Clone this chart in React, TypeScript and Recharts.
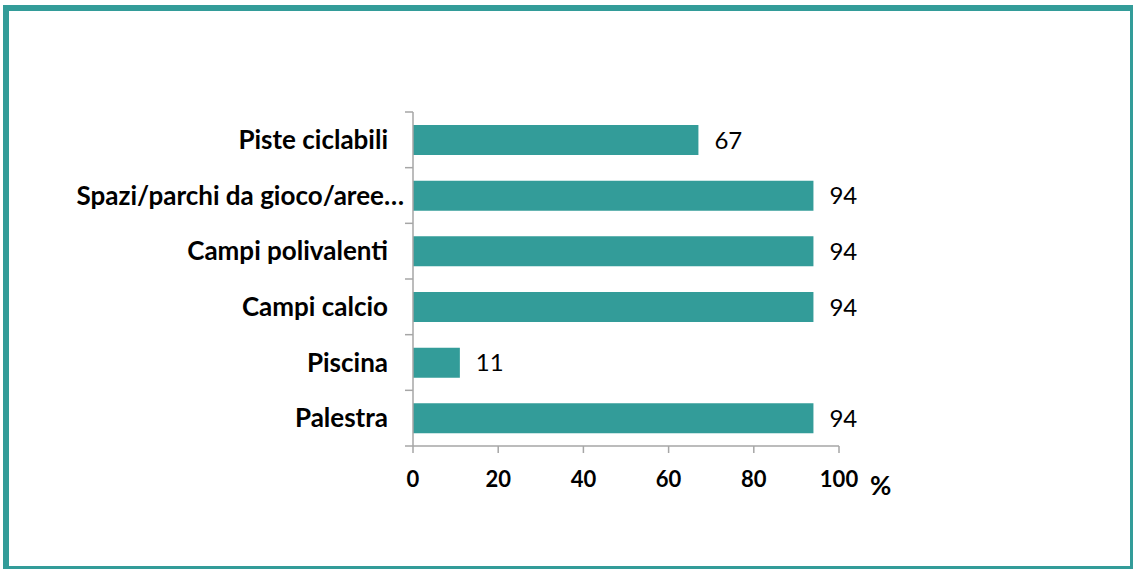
import { BarChart, Bar, XAxis, YAxis, LabelList } from "recharts";

const categories = [
  "Piste ciclabili",
  "Spazi/parchi da gioco/aree…",
  "Campi polivalenti",
  "Campi calcio",
  "Piscina",
  "Palestra",
];
const values = [67, 94, 94, 94, 11, 94];
const xTicks = [0, 20, 40, 60, 80, 100];

const data = categories.map((name, i) => ({ name, value: values[i] }));

const TEAL = "#339c99";
const AXIS = "#a6a6a6";
const FONT = "Lato, 'Open Sans', sans-serif";
const TICK_SIZE = 8;
const TICK_MARGIN = 17;

// Excel-style ticks: marks sit on the category boundaries, not the centres
const CategoryTick = (props: any) => {
  const { x, y, payload, index, visibleTicksCount } = props;
  const half = payload.offset ?? 0;
  const lx1 = x + TICK_MARGIN;
  const lx2 = lx1 + TICK_SIZE;
  // truncated labels run closer to the axis in the original
  const shift = String(payload.value).endsWith("…") ? 16 : 0;
  return (
    <g>
      <line x1={lx1} x2={lx2} y1={y - half} y2={y - half} stroke={AXIS} strokeWidth={1.5} />
      {index === visibleTicksCount - 1 && (
        <line x1={lx1} x2={lx2} y1={y + half} y2={y + half} stroke={AXIS} strokeWidth={1.5} />
      )}
      <text
        x={x + shift}
        y={y}
        dy="0.35em"
        textAnchor="end"
        fontFamily={FONT}
        fontWeight={700}
        fontSize={26}
        fill="#000"
      >
        {payload.value}
      </text>
    </g>
  );
};

export default function App() {
  return (
    <div
      style={{
        position: "fixed",
        left: 3,
        top: 5,
        width: 1133,
        height: 567,
        boxSizing: "border-box",
        border: `6px solid ${TEAL}`,
        background: "#fff",
      }}
    >
      <div style={{ position: "absolute", left: -9, top: -11 }}>
        <BarChart
          width={1133}
          height={569}
          data={data}
          layout="vertical"
          barSize={30}
          margin={{ top: 112, right: 294, bottom: 83, left: 0 }}
        >
          <XAxis
            type="number"
            domain={[0, 100]}
            ticks={xTicks}
            height={40}
            axisLine={{ stroke: AXIS, strokeWidth: 1.5 }}
            tickLine={{ stroke: AXIS, strokeWidth: 1.5 }}
            tickSize={7}
            tickMargin={18}
            tick={{ fill: "#000", fontFamily: FONT, fontWeight: 700, fontSize: 22 }}
            label={{
              value: "%",
              position: "right",
              dx: 26,
              dy: 20,
              fill: "#000",
              fontFamily: FONT,
              fontWeight: 700,
              fontSize: 26,
            }}
          />
          <YAxis
            type="category"
            dataKey="name"
            width={413}
            axisLine={{ stroke: AXIS, strokeWidth: 1.5 }}
            tickLine={false}
            tickSize={TICK_SIZE}
            tickMargin={TICK_MARGIN}
            interval={0}
            tick={<CategoryTick />}
          />
          <Bar dataKey="value" fill={TEAL} isAnimationActive={false}>
            <LabelList
              dataKey="value"
              position="right"
              offset={16}
              fill="#000"
              fontFamily={FONT}
              fontSize={24}
            />
          </Bar>
        </BarChart>
      </div>
    </div>
  );
}
